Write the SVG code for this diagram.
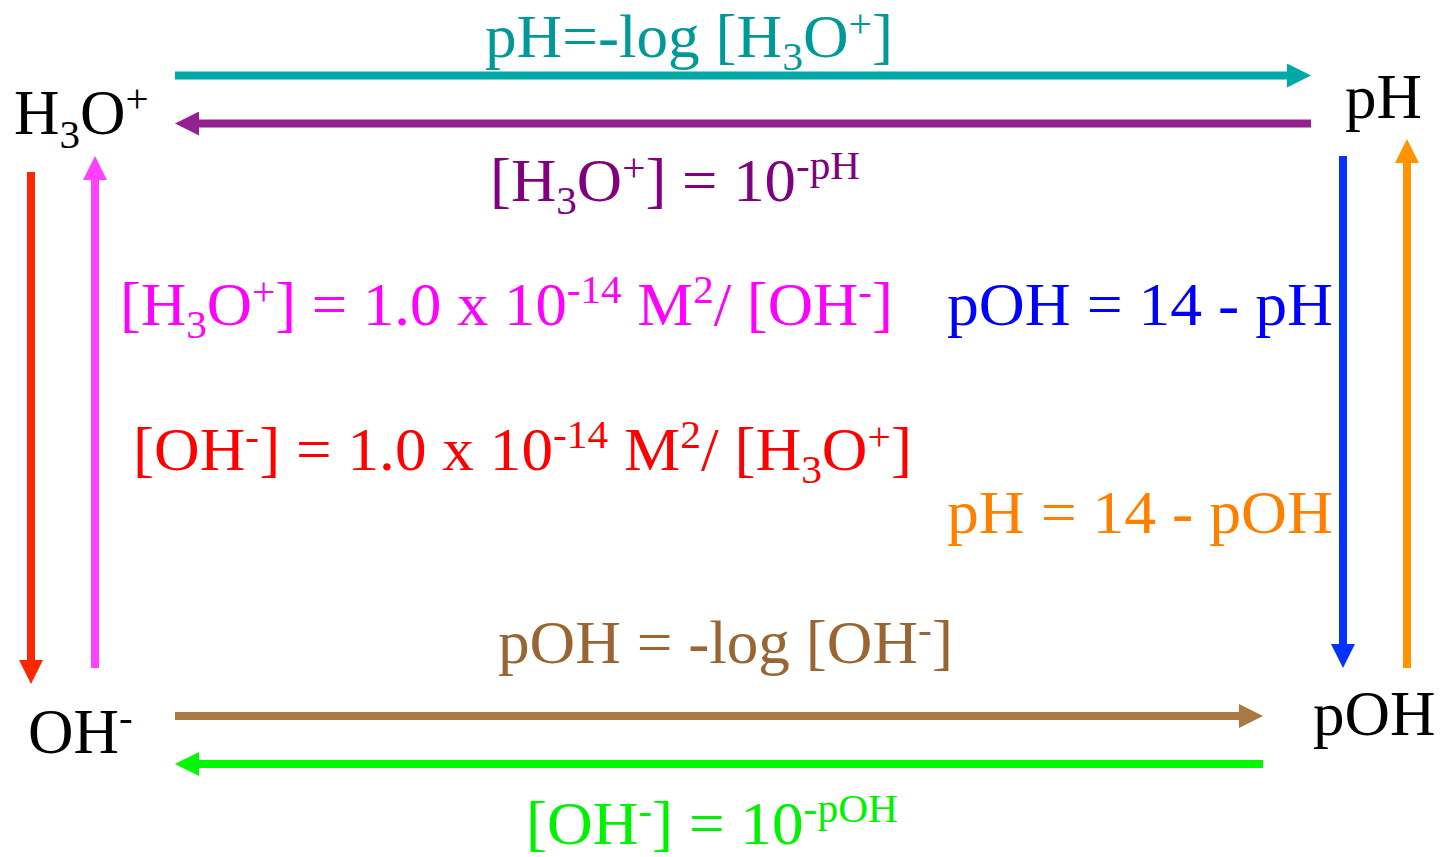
<svg xmlns="http://www.w3.org/2000/svg" width="1447" height="857" viewBox="0 0 1447 857">
<style>
text{font-family:"Liberation Serif","Times New Roman",serif;font-size:61px}
.node{font-size:63px;fill:#000}
.s{font-size:40px}
.ns{font-size:41px}
.teal{fill:#009999}.purple{fill:#800080}.mag{fill:#FF00FF}.red{fill:#FF0000}
.blue{fill:#0000FF}.orange{fill:#FF8000}.brown{fill:#996633}.green{fill:#00F200}
line{stroke-width:8;fill:none}
</style>
<defs>
<marker id="hTeal" markerUnits="userSpaceOnUse" markerWidth="24" markerHeight="24" viewBox="0 0 24 24" refX="0" refY="12" orient="auto"><path d="M0,0 L24,12 L0,24 z" fill="#00A8A8"/></marker>
<marker id="hPurple" markerUnits="userSpaceOnUse" markerWidth="24" markerHeight="24" viewBox="0 0 24 24" refX="0" refY="12" orient="auto"><path d="M0,0 L24,12 L0,24 z" fill="#942192"/></marker>
<marker id="hRed" markerUnits="userSpaceOnUse" markerWidth="24" markerHeight="24" viewBox="0 0 24 24" refX="0" refY="12" orient="auto"><path d="M0,0 L24,12 L0,24 z" fill="#FF2600"/></marker>
<marker id="hMag" markerUnits="userSpaceOnUse" markerWidth="24" markerHeight="24" viewBox="0 0 24 24" refX="0" refY="12" orient="auto"><path d="M0,0 L24,12 L0,24 z" fill="#FF40FF"/></marker>
<marker id="hBlue" markerUnits="userSpaceOnUse" markerWidth="24" markerHeight="24" viewBox="0 0 24 24" refX="0" refY="12" orient="auto"><path d="M0,0 L24,12 L0,24 z" fill="#0433FF"/></marker>
<marker id="hOrange" markerUnits="userSpaceOnUse" markerWidth="24" markerHeight="24" viewBox="0 0 24 24" refX="0" refY="12" orient="auto"><path d="M0,0 L24,12 L0,24 z" fill="#FF9300"/></marker>
<marker id="hBrown" markerUnits="userSpaceOnUse" markerWidth="24" markerHeight="24" viewBox="0 0 24 24" refX="0" refY="12" orient="auto"><path d="M0,0 L24,12 L0,24 z" fill="#AA7942"/></marker>
<marker id="hGreen" markerUnits="userSpaceOnUse" markerWidth="24" markerHeight="24" viewBox="0 0 24 24" refX="0" refY="12" orient="auto"><path d="M0,0 L24,12 L0,24 z" fill="#00F900"/></marker>
</defs>
<rect width="1447" height="857" fill="#fff"/>
<g id="connectors">
<line x1="175" y1="75.5" x2="1287" y2="75.5" stroke="#00A8A8" marker-end="url(#hTeal)"/>
<line x1="1311" y1="123.5" x2="199" y2="123.5" stroke="#942192" marker-end="url(#hPurple)"/>
<line x1="31" y1="172" x2="31" y2="660" stroke="#FF2600" marker-end="url(#hRed)"/>
<line x1="95" y1="668" x2="95" y2="180" stroke="#FF40FF" marker-end="url(#hMag)"/>
<line x1="1343" y1="156" x2="1343" y2="644" stroke="#0433FF" marker-end="url(#hBlue)"/>
<line x1="1407" y1="668" x2="1407" y2="163" stroke="#FF9300" marker-end="url(#hOrange)"/>
<line x1="175" y1="716" x2="1239" y2="716" stroke="#AA7942" marker-end="url(#hBrown)"/>
<line x1="1263" y1="764" x2="199" y2="764" stroke="#00F900" marker-end="url(#hGreen)"/>
<text class="teal" x="485" y="57" textLength="408" lengthAdjust="spacingAndGlyphs">pH=-log [H<tspan class="s" dy="13">3</tspan><tspan dy="-13">O</tspan><tspan class="s" dy="-20">+</tspan><tspan dy="20">]</tspan></text>
<text class="purple" x="490" y="201" textLength="370" lengthAdjust="spacingAndGlyphs">[H<tspan class="s" dy="13">3</tspan><tspan dy="-13">O</tspan><tspan class="s" dy="-20">+</tspan><tspan dy="20">] = 10</tspan><tspan class="s" dy="-22">-pH</tspan></text>
<text class="mag" x="120" y="325" textLength="773" lengthAdjust="spacingAndGlyphs">[H<tspan class="s" dy="13">3</tspan><tspan dy="-13">O</tspan><tspan class="s" dy="-20">+</tspan><tspan dy="20">] = 1.0 x 10</tspan><tspan class="s" dy="-22">-14</tspan><tspan dy="22"> M</tspan><tspan class="s" dy="-22">2</tspan><tspan dy="22">/ [OH</tspan><tspan class="s" dy="-20">-</tspan><tspan dy="20">]</tspan></text>
<text class="red" x="133" y="470" textLength="779" lengthAdjust="spacingAndGlyphs">[OH<tspan class="s" dy="-20">-</tspan><tspan dy="20">] = 1.0 x 10</tspan><tspan class="s" dy="-22">-14</tspan><tspan dy="22"> M</tspan><tspan class="s" dy="-22">2</tspan><tspan dy="22">/ [H</tspan><tspan class="s" dy="13">3</tspan><tspan dy="-13">O</tspan><tspan class="s" dy="-20">+</tspan><tspan dy="20">]</tspan></text>
<text class="blue" x="947" y="325" textLength="386" lengthAdjust="spacingAndGlyphs">pOH = 14 - pH</text>
<text class="orange" x="947" y="533" textLength="386" lengthAdjust="spacingAndGlyphs">pH = 14 - pOH</text>
<text class="brown" x="498" y="663" textLength="455" lengthAdjust="spacingAndGlyphs">pOH = -log [OH<tspan class="s" dy="-20">-</tspan><tspan dy="20">]</tspan></text>
<text class="green" x="526" y="844" textLength="372" lengthAdjust="spacingAndGlyphs">[OH<tspan class="s" dy="-20">-</tspan><tspan dy="20">] = 10</tspan><tspan class="s" dy="-22">-pOH</tspan></text>
</g>
<g id="node-h3o">
<text class="node" x="14" y="134">H<tspan class="ns" dy="14">3</tspan><tspan dy="-14">O</tspan><tspan class="ns" dy="-22">+</tspan></text>
</g>
<g id="node-ph">
<text class="node" x="1345" y="118">pH</text>
</g>
<g id="node-oh">
<text class="node" x="28" y="753">OH<tspan class="ns" dy="-22">-</tspan></text>
</g>
<g id="node-poh">
<text class="node" x="1313" y="735">pOH</text>
</g>
</svg>
